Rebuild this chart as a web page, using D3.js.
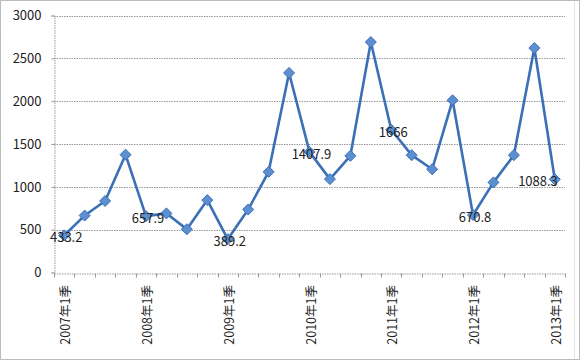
<!DOCTYPE html>
<html><head><meta charset="utf-8">
<script src="https://cdn.jsdelivr.net/npm/d3@7/dist/d3.min.js"></script>
<style>body{margin:0;background:#fff}svg{display:block}</style>
</head><body>
<svg id="c" width="581" height="361"></svg>
<script>
const categories = ["2007年1季","2007年2季","2007年3季","2007年4季",
 "2008年1季","2008年2季","2008年3季","2008年4季",
 "2009年1季","2009年2季","2009年3季","2009年4季",
 "2010年1季","2010年2季","2010年3季","2010年4季",
 "2011年1季","2011年2季","2011年3季","2011年4季",
 "2012年1季","2012年2季","2012年3季","2012年4季",
 "2013年1季"];
const values = [433.2,665,835,1375,657.9,690,505,845,389.2,735,1175,2330,1407.9,1090,1362,2690,1666,1370,1205,2010,670.8,1052,1370,2620,1088.3];
const labelIdx = [0,4,8,12,16,20,24];
const yTicks = [0,500,1000,1500,2000,2500,3000];

const svg = d3.select("#c");
const L=54, R=565, T=15.5, B=272.5;
const x = d3.scaleBand().domain(categories).range([L,R]).padding(0);
const y = d3.scaleLinear().domain([0,3000]).range([B,T]);
const font = "'Noto Sans CJK SC', 'DejaVu Sans', sans-serif";

// chart border
svg.append("rect").attr("x",0.5).attr("y",0.5).attr("width",579).attr("height",359)
  .attr("fill","none").attr("stroke","#777").attr("stroke-dasharray","1,1");
svg.append("line").attr("x1",574.5).attr("x2",574.5).attr("y1",1).attr("y2",359)
  .attr("stroke","#e4e4e4");

// gridlines
svg.append("g").selectAll("line").data(yTicks.filter(d=>d>0)).join("line")
  .attr("x1",L).attr("x2",R).attr("y1",d=>Math.round(y(d))+0.5).attr("y2",d=>Math.round(y(d))+0.5)
  .attr("stroke","#999").attr("stroke-dasharray","1.5,1");

// y axis
const ya = svg.append("g").attr("transform",`translate(${L+0.5},0)`)
  .call(d3.axisLeft(y).tickValues(yTicks).tickSize(3).tickPadding(10).tickFormat(d3.format("d")));
ya.select(".domain").attr("stroke","#999").attr("stroke-dasharray","1.5,1");
ya.selectAll(".tick line").attr("stroke","#999");
ya.selectAll("text").attr("font-family",font).attr("font-size",13).attr("fill","#222");

// x axis
const xa = svg.append("g").attr("transform",`translate(0,${Math.round(B)+0.5})`)
  .call(d3.axisBottom(x).tickSize(0).tickFormat(""));
xa.select(".domain").attr("stroke","#999").attr("stroke-dasharray","1.5,1");
const bounds = categories.map((c,i)=>x(c)).concat([R]);
xa.selectAll("line.tk").data(bounds).join("line").attr("class","tk")
  .attr("x1",d=>Math.round(d)+0.5).attr("x2",d=>Math.round(d)+0.5).attr("y1",0).attr("y2",4)
  .attr("stroke","#999");
svg.append("g").selectAll("text").data(labelIdx).join("text")
  .attr("transform",i=>`translate(${x(categories[i])+x.bandwidth()/2+6},285) rotate(-90)`)
  .attr("text-anchor","end")
  .attr("font-family",font).attr("font-size",12.5).attr("fill","#222")
  .text(i=>categories[i]);

// line
const cx = d => x(d.c)+x.bandwidth()/2;
const data = categories.map((c,i)=>({c, v:values[i], i}));
svg.append("path").datum(data)
  .attr("d", d3.line().x(cx).y(d=>y(d.v)))
  .attr("fill","none").attr("stroke","#3b6fb6").attr("stroke-width",2.6).attr("stroke-linejoin","round");
svg.append("g").selectAll("path").data(data).join("path")
  .attr("transform",d=>`translate(${cx(d)},${y(d.v)})`)
  .attr("d","M0,-5.5L5.5,0L0,5.5L-5.5,0Z")
  .attr("fill","#5b8fd0").attr("stroke","#3b6fb6").attr("stroke-width",1);

// data labels
svg.append("g").selectAll("text").data(labelIdx).join("text")
  .attr("x",i=>{const px=cx(data[i]); return Math.min(px+2, 538);})
  .attr("y",i=>y(values[i])+7)
  .attr("text-anchor","middle")
  .attr("font-family",font).attr("font-size",13).attr("fill","#222")
  .text(i=>values[i]);
</script>
</body></html>
